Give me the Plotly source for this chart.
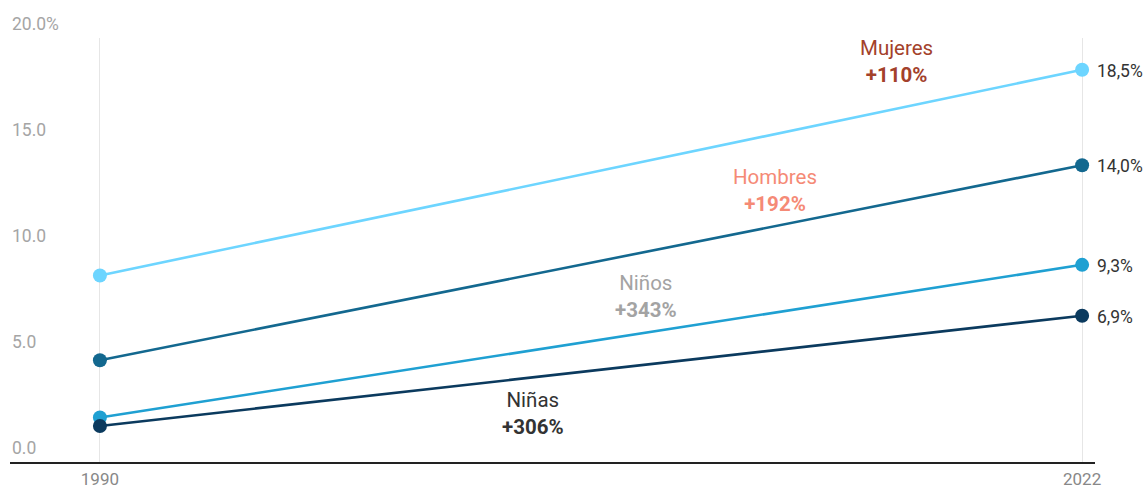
import plotly.graph_objects as go

years = [1990, 2022]
series_names = ["Mujeres", "Hombres", "Niños", "Niñas"]
mujeres = [8.8, 18.5]
hombres = [4.8, 14.0]
ninos = [2.1, 9.3]
ninas = [1.7, 6.9]
values = [mujeres, hombres, ninos, ninas]
line_colors = ["#6dd5ff", "#13688f", "#1fa0d2", "#0b3a5e"]
label_colors = ["#a3412b", "#f58a76", "#a3a3a3", "#333333"]
# label positions (year, value) for the series name labels
label_pos = [(2015.95, 18.9), (2012.0, 12.83), (2007.8, 7.83), (2004.1, 2.31)]
y_ticks = [0, 5, 10, 15, 20]
y_tick_text = ["0.0", "5.0", "10.0", "15.0", "20.0%"]

font = "Roboto"
fig = go.Figure()
for name, vals, col in zip(series_names, values, line_colors):
    fig.add_trace(go.Scatter(
        x=years, y=vals, mode="lines+markers", name=name,
        line=dict(color=col, width=2.6),
        marker=dict(color=col, size=14),
        cliponaxis=False, showlegend=False, hoverinfo="skip"))

annotations = []
for name, vals, lc, (lx, ly) in zip(series_names, values, label_colors, label_pos):
    pct = round((vals[1] / vals[0] - 1) * 100)
    annotations.append(dict(
        x=lx, y=ly, xref="x", yref="y", showarrow=False,
        text=f"{name}<br><b>+{pct}%</b>", align="center",
        font=dict(family=font, size=20.5, color=lc)))
    annotations.append(dict(
        x=years[1], y=vals[1], xref="x", yref="y", showarrow=False,
        xanchor="left", xshift=13, yshift=-1,
        text=f"{vals[1]:.1f}%".replace(".", ","),
        font=dict(family=font, size=17.5, color="#333333")))

for v, t in zip(y_ticks, y_tick_text):
    annotations.append(dict(
        x=0, xref="paper", y=v, yref="y", showarrow=False,
        xanchor="left", yanchor="bottom", yshift=2,
        text=t, font=dict(family=font, size=17.5, color="#a5a5a5")))

fig.update_layout(
    width=1147, height=489,
    margin=dict(l=10, r=52, t=38, b=27, autoexpand=False),
    paper_bgcolor="white", plot_bgcolor="white",
    annotations=annotations,
    xaxis=dict(range=[1987.07, 2022.42], tickvals=years, ticktext=[str(y) for y in years],
               showgrid=True, gridcolor="#e6e6e6", gridwidth=1,
               showline=True, linecolor="#222222", linewidth=1.5,
               ticks="", ticklabelstandoff=1, automargin=False,
               tickfont=dict(family=font, size=17, color="#888888"),
               zeroline=False, fixedrange=True),
    yaxis=dict(range=[0, 20], showgrid=False, zeroline=False, showticklabels=False,
               automargin=False, fixedrange=True),
)
fig.write_html("out.html")
